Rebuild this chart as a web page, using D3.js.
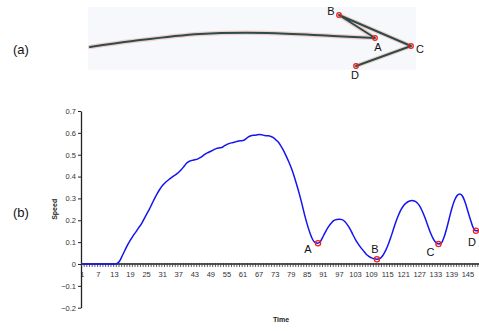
<!DOCTYPE html>
<html>
<head>
<meta charset="utf-8">
<script src="https://cdn.jsdelivr.net/npm/d3@7"></script>
<style>
  body { margin: 0; background: #fff; }
  svg { display: block; font-family: "Liberation Sans", Arial, sans-serif; }
</style>
</head>
<body>
<svg id="chart" width="479" height="331"></svg>
<script>
// speed per time step (1..149)
const speed = [
  0, 0, 0, 0, 0, 0, 0, 0, 0, 0,
  0, 0, 0, 0.003, 0.015, 0.04, 0.065, 0.09, 0.11, 0.13,
  0.147, 0.165, 0.182, 0.205, 0.228, 0.25, 0.275, 0.30, 0.323, 0.343,
  0.36, 0.373, 0.383, 0.393, 0.402, 0.41, 0.42, 0.432, 0.447, 0.462,
  0.47, 0.474, 0.477, 0.48, 0.487, 0.495, 0.504, 0.51, 0.516, 0.522,
  0.528, 0.531, 0.533, 0.54, 0.547, 0.552, 0.555, 0.558, 0.562, 0.564,
  0.565, 0.572, 0.582, 0.587, 0.589, 0.59, 0.592, 0.591, 0.588, 0.587,
  0.586, 0.58, 0.571, 0.56, 0.543, 0.522, 0.497, 0.47, 0.44, 0.405,
  0.365, 0.322, 0.275, 0.225, 0.18, 0.142, 0.112, 0.097, 0.095, 0.105,
  0.128, 0.152, 0.172, 0.188, 0.199, 0.204, 0.205, 0.203, 0.194, 0.179,
  0.16, 0.135, 0.112, 0.092, 0.075, 0.06, 0.045, 0.035, 0.028, 0.024,
  0.022, 0.024, 0.035, 0.055, 0.082, 0.115, 0.152, 0.19, 0.222, 0.249,
  0.268, 0.28, 0.287, 0.29, 0.288, 0.28, 0.265, 0.24, 0.21, 0.176,
  0.143, 0.116, 0.098, 0.091, 0.095, 0.12, 0.16, 0.208, 0.255, 0.292,
  0.314, 0.32, 0.31, 0.28, 0.24, 0.2, 0.165, 0.152, 0.152
];
const times = speed.map((d, i) => i + 1);
const yTicks = [-0.2, -0.1, 0, 0.1, 0.2, 0.3, 0.4, 0.5, 0.6, 0.7];
const timeLabels = times.filter(t => (t - 1) % 6 === 0);

// marked minima on the speed curve
const markNames = ["A", "B", "C", "D"];
const markTimes = [89, 111, 134, 148];

// sketch in panel (a), coordinates inside the sketch box
// shaft: smooth curve up to A; head: straight strokes A-B-C-D
const shaftX = [2, 45, 112, 179, 245, 287];
const shaftY = [40, 34, 27, 26, 29, 31];
const headX = [287, 251, 323, 268];
const headY = [31, 8, 39, 59];
const headNames = ["A", "B", "C", "D"];

const svg = d3.select("#chart");

// ---------- panel (a) ----------
const box = { left: 88, top: 7, width: 328, height: 63 };
const sx = d3.scaleLinear().domain([0, box.width]).range([box.left, box.left + box.width]);
const sy = d3.scaleLinear().domain([0, box.height]).range([box.top, box.top + box.height]);

svg.append("rect")
    .attr("x", sx(0)).attr("y", sy(0))
    .attr("width", box.width).attr("height", box.height)
    .attr("fill", "#f7f8fb");

const shaftPts = shaftX.map((x, i) => [sx(x), sy(shaftY[i])]);
const headPts = headX.map((x, i) => [sx(x), sy(headY[i])]);
const shaftLine = d3.line().curve(d3.curveCatmullRom.alpha(0.5));
const headLine = d3.line();

[["#ecd2ca", 4.5], ["#2e4a4c", 2]].forEach(([color, w]) => {
  svg.append("path")
      .attr("d", shaftLine(shaftPts) + headLine(headPts))
      .attr("fill", "none")
      .attr("stroke", color)
      .attr("stroke-width", w)
      .attr("stroke-linejoin", "round")
      .attr("stroke-linecap", "round");
});

const sketchMarks = headNames.map((n, i) => ({ name: n, p: headPts[i] }));
svg.append("g").selectAll("circle")
    .data(sketchMarks)
    .join("circle")
    .attr("cx", d => d.p[0])
    .attr("cy", d => d.p[1])
    .attr("r", 2.3)
    .attr("fill", "none")
    .attr("stroke", "#e82020")
    .attr("stroke-width", 1.2);

const sketchOffsets = { A: [3, 13], B: [-8, 0], C: [9, 7], D: [-1, 13] };
svg.append("g")
    .attr("font-size", 11)
    .attr("fill", "#111")
    .attr("text-anchor", "middle")
    .selectAll("text")
    .data(sketchMarks)
    .join("text")
    .attr("x", d => d.p[0] + sketchOffsets[d.name][0])
    .attr("y", d => d.p[1] + sketchOffsets[d.name][1])
    .text(d => d.name);

svg.append("text").attr("x", 13).attr("y", 54).attr("font-size", 13).attr("fill", "#111").text("(a)");
svg.append("text").attr("x", 13).attr("y", 217).attr("font-size", 13).attr("fill", "#111").text("(b)");

// ---------- panel (b) ----------
const x = d3.scaleBand().domain(times).range([81, 480]);
const y = d3.scaleLinear().domain([-0.2, 0.7]).range([307.7, 111]);
const xc = t => x(t) + x.bandwidth() / 2;

// y axis
const yAxis = svg.append("g")
    .attr("transform", `translate(${x.range()[0]},0)`)
    .call(d3.axisLeft(y).tickValues(yTicks).tickSize(3).tickSizeOuter(0)
        .tickFormat(d => d3.format("")(+d.toFixed(1))));
yAxis.select(".domain").attr("stroke", "#222").attr("stroke-width", 1.3);
yAxis.selectAll(".tick line").attr("stroke", "#222");
yAxis.selectAll(".tick text").attr("font-size", 7.5).attr("fill", "#333").attr("x", -5)
    .attr("font-family", "Liberation Sans, Arial, sans-serif");

// x axis at zero with a tick at every category boundary
const xAxis = svg.append("g")
    .attr("transform", `translate(0,${y(0)})`);
xAxis.append("line")
    .attr("x1", x.range()[0]).attr("x2", x.range()[1])
    .attr("stroke", "#222").attr("stroke-width", 1.3);
xAxis.append("g").selectAll("line")
    .data(times)
    .join("line")
    .attr("x1", d => x(d) + 0.5).attr("x2", d => x(d) + 0.5)
    .attr("y1", -1).attr("y2", 3)
    .attr("stroke", "#333").attr("stroke-width", 0.8);
xAxis.append("g")
    .attr("font-size", 7.5)
    .attr("fill", "#333")
    .attr("text-anchor", "middle")
    .selectAll("text")
    .data(timeLabels)
    .join("text")
    .attr("x", d => xc(d))
    .attr("y", 13)
    .text(d => d);

// axis titles
svg.append("text")
    .attr("x", 281).attr("y", 322)
    .attr("text-anchor", "middle")
    .attr("font-size", 7).attr("font-weight", "bold").attr("fill", "#222")
    .text("Time");
svg.append("text")
    .attr("transform", `translate(57,${y(0.25)}) rotate(-90)`)
    .attr("text-anchor", "middle")
    .attr("font-size", 7).attr("font-weight", "bold").attr("fill", "#222")
    .text("Speed");

// speed curve
const line = d3.line()
    .x((d, i) => xc(times[i]))
    .y(d => y(d))
    .curve(d3.curveMonotoneX);
svg.append("path")
    .datum(speed)
    .attr("d", line)
    .attr("fill", "none")
    .attr("stroke", "#1414f0")
    .attr("stroke-width", 1.5);

// marked points
const marks = markTimes.map((t, i) => ({ name: markNames[i], t: t, v: speed[t - 1] }));
svg.append("g").selectAll("circle")
    .data(marks)
    .join("circle")
    .attr("cx", d => xc(d.t))
    .attr("cy", d => y(d.v))
    .attr("r", 2.6)
    .attr("fill", "none")
    .attr("stroke", "#f02020")
    .attr("stroke-width", 1.3);

const labelOffsets = { A: [-10, 10], B: [-2, -6], C: [-8, 12], D: [-4, 15] };
svg.append("g")
    .attr("font-size", 11)
    .attr("fill", "#111")
    .attr("text-anchor", "middle")
    .selectAll("text")
    .data(marks)
    .join("text")
    .attr("x", d => xc(d.t) + labelOffsets[d.name][0])
    .attr("y", d => y(d.v) + labelOffsets[d.name][1])
    .text(d => d.name);
</script>
</body>
</html>
